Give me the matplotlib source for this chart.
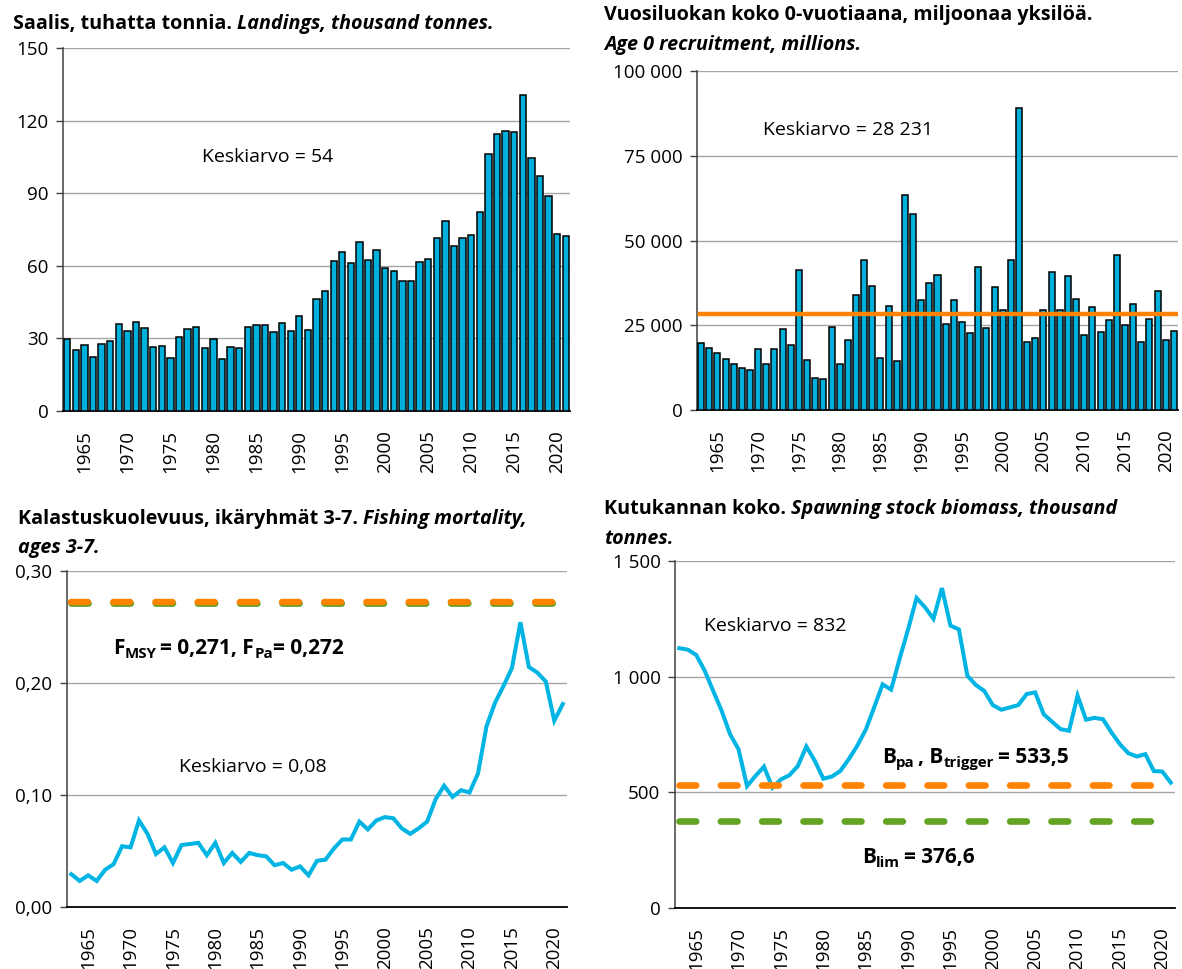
import matplotlib
matplotlib.use("Agg")
import matplotlib.pyplot as plt
from matplotlib.ticker import FuncFormatter, MultipleLocator, FixedLocator
import numpy as np

W, H = 1182, 969
FONT = ["Open Sans", "DejaVu Sans"]
plt.rcParams["font.family"] = FONT

years = list(range(1963, 2022))

landings = [29.8, 25.1, 27.2, 22.1, 27.6, 29.0, 35.9, 33.1, 36.5, 34.3,
            26.5, 26.8, 21.7, 30.4, 33.7, 34.7, 26.1, 29.8, 21.5, 26.4,
            26.1, 34.7, 35.4, 35.4, 32.5, 36.3, 33.0, 39.0, 33.4, 46.4,
            49.4, 62.0, 65.5, 61.2, 69.9, 62.3, 66.3, 59.0, 57.6, 53.7,
            53.7, 61.6, 62.8, 71.3, 78.5, 68.2, 71.3, 72.5, 82.0, 106.1,
            114.6, 115.6, 115.2, 130.4, 104.7, 97.2, 88.9, 72.9, 72.1]

recruitment = [19880, 18300, 16730, 15150, 13580, 12400, 11810, 17910, 13480, 17910,
               23810, 19190, 41230, 14760, 9550, 9250, 24400, 13580, 20660, 33950,
               44280, 36700, 15450, 30600, 14460, 63470, 57960, 32470, 37490, 39950,
               25390, 32470, 25880, 22830, 42120, 24110, 36210, 29520, 44280, 88950,
               19980, 21350, 29420, 40840, 29520, 39560, 32870, 22240, 30500, 23120,
               26570, 45850, 25090, 31190, 19980, 26860, 35230, 20660, 23420]
recruitment_mean = 28231

fishing_mortality = [0.029, 0.023, 0.028, 0.023, 0.033, 0.038, 0.054, 0.053, 0.077, 0.065,
                     0.047, 0.053, 0.039, 0.055, 0.056, 0.057, 0.046, 0.057, 0.039, 0.048,
                     0.040, 0.048, 0.046, 0.045, 0.037, 0.039, 0.033, 0.036, 0.028, 0.041,
                     0.042, 0.052, 0.060, 0.060, 0.076, 0.069, 0.077, 0.080, 0.079, 0.070,
                     0.065, 0.070, 0.076, 0.096, 0.108, 0.098, 0.104, 0.102, 0.119, 0.161,
                     0.182, 0.197, 0.213, 0.254, 0.214, 0.209, 0.201, 0.166, 0.181]
f_msy = 0.271
f_pa = 0.272

ssb = [1123, 1117, 1094, 1026, 939, 853, 751, 686, 527, 571,
       611, 520, 556, 574, 614, 698, 636, 559, 568, 592,
       643, 701, 770, 867, 967, 944, 1077, 1204, 1340, 1300,
       1250, 1383, 1221, 1204, 1004, 964, 938, 877, 857, 867,
       877, 925, 932, 838, 805, 773, 766, 918, 814, 822,
       816, 759, 708, 669, 655, 665, 592, 590, 542]
b_pa = 533.5
b_lim = 376.6

xticks = list(range(1965, 2021, 5))

BAR = "#00B0DC"
LINE = "#00B4E4"
ORANGE = "#FF8300"
GREEN = "#62A322"
GRID = "#A6A6A6"
TICK_FS = 13.5
NOTE_FS = 14.0
REF_FS = 15.0
TITLE_FS = 14.2

fig = plt.figure(figsize=(W / 100, H / 100), dpi=100)
renderer = fig.canvas.get_renderer()


def make_ax(l, t, r, b):
    return fig.add_axes([l / W, 1 - b / H, (r - l) / W, (b - t) / H])


def style_ax(ax, ylim, step, fmt):
    ax.set_xlim(years[0] - 0.5, years[-1] + 0.5)
    ax.set_ylim(*ylim)
    ax.yaxis.set_major_locator(MultipleLocator(step))
    ax.yaxis.set_major_formatter(FuncFormatter(fmt))
    ax.xaxis.set_major_locator(FixedLocator(xticks))
    ax.grid(axis="y", color=GRID, lw=1.0)
    ax.set_axisbelow(True)
    for s in ("top", "right"):
        ax.spines[s].set_visible(False)
    ax.spines["left"].set_color("#404040")
    ax.spines["left"].set_linewidth(1.1)
    ax.spines["bottom"].set_color("#000000")
    ax.spines["bottom"].set_linewidth(1.3)
    ax.tick_params(axis="y", direction="out", length=5, width=1.0, color="#404040",
                   pad=5.5, labelsize=TICK_FS, labelcolor="#000000")
    ax.tick_params(axis="x", length=0, pad=14, labelsize=TICK_FS, labelrotation=90)


def space_fmt(v, pos):
    return f"{int(round(v)):,}".replace(",", " ")


def comma_fmt(v, pos):
    return f"{v:.2f}".replace(".", ",")


def draw_runs(x, y, parts, size):
    cx = x
    for p in parts:
        s = p["s"]
        trail = s.endswith(" ")
        s = s.rstrip(" ")
        fs = size * p.get("scale", 1.0)
        kw = dict(fontsize=fs, fontweight=p.get("w", "normal"),
                  fontstyle=p.get("st", "normal"), family=FONT, color="#000000")
        t = fig.text(cx / W, 1 - (y + p.get("dy", 0)) / H, s, ha="left", va="baseline", **kw)
        cx += t.get_window_extent(renderer).width
        if trail:
            a = fig.text(0, 0, "a a", **kw)
            b = fig.text(0, 0, "aa", **kw)
            cx += a.get_window_extent(renderer).width - b.get_window_extent(renderer).width
            a.remove()
            b.remove()
        cx += p.get("gap", 0)


def ptext(x, y, s, **kw):
    fig.text(x / W, 1 - y / H, s, ha="left", va="baseline", family=FONT,
             fontsize=kw.pop("fontsize", NOTE_FS), **kw)


# ---- Top-left: landings
ax1 = make_ax(63, 48, 570, 410.7)
style_ax(ax1, (0, 150), 30, lambda v, p: f"{int(v)}")
ax1.bar(years, landings, width=0.74, color=BAR, edgecolor="#000000", linewidth=1.1, zorder=3)
ptext(202, 162, "Keskiarvo = 54")
draw_runs(13, 29, [dict(s="Saalis, tuhatta tonnia. ", w="bold"),
                   dict(s="Landings, thousand tonnes.", w="bold", st="italic")], TITLE_FS)

# ---- Top-right: recruitment
ax2 = make_ax(697, 71, 1178, 410)
style_ax(ax2, (0, 100000), 25000, space_fmt)
ax2.bar(years, recruitment, width=0.74, color=BAR, edgecolor="#000000", linewidth=1.1, zorder=3)
ax2.axhline(recruitment_mean, xmin=0.006, xmax=0.995, color=ORANGE, lw=3.2, zorder=4)
ptext(763, 135, "Keskiarvo = 28 231")
draw_runs(604, 20, [dict(s="Vuosiluokan koko 0-vuotiaana, miljoonaa yksilöä.", w="bold")], TITLE_FS)
draw_runs(604, 50, [dict(s="Age 0 recruitment, millions.", w="bold", st="italic")], TITLE_FS)

DASH = (2.5, 3.7)

# ---- Bottom-left: fishing mortality
ax3 = make_ax(67, 570.7, 567, 906.7)
style_ax(ax3, (0, 0.30), 0.10, comma_fmt)
ax3.plot(years, fishing_mortality, color=LINE, lw=2.9, zorder=3, solid_joinstyle="miter")
ax3.plot([years[0], years[-1]], [f_msy, f_msy], color=GREEN, lw=4.9, dashes=DASH,
         dash_capstyle="round", zorder=4)
ax3.plot([years[0], years[-1]], [f_pa, f_pa], color=ORANGE, lw=4.6,
         dashes=(DASH[0] * 4.9 / 4.6, DASH[1] * 4.9 / 4.6), dash_capstyle="round", zorder=5)
ptext(179, 772, "Keskiarvo = 0,08")
draw_runs(113, 654, [dict(s="F", w="bold"), dict(s="MSY ", w="bold", scale=0.72, dy=4),
                     dict(s="= 0,271, F", w="bold"), dict(s="Pa", w="bold", scale=0.72, dy=4),
                     dict(s="= 0,272", w="bold")], REF_FS)
draw_runs(18, 524, [dict(s="Kalastuskuolevuus, ikäryhmät 3-7. ", w="bold"),
                    dict(s="Fishing mortality,", w="bold", st="italic")], TITLE_FS)
draw_runs(18, 553, [dict(s="ages 3-7.", w="bold", st="italic")], TITLE_FS)

# ---- Bottom-right: spawning stock biomass
ax4 = make_ax(675, 561, 1175, 908)
style_ax(ax4, (0, 1500), 500, space_fmt)
ax4.plot(years, ssb, color=LINE, lw=2.9, zorder=3, solid_joinstyle="miter")
ax4.plot([years[0], years[-1]], [b_pa, b_pa], color=ORANGE, lw=4.8, dashes=DASH,
         dash_capstyle="round", zorder=4)
ax4.plot([years[0], years[-1]], [b_lim, b_lim], color=GREEN, lw=4.8, dashes=DASH,
         dash_capstyle="round", zorder=4)
ptext(704, 631, "Keskiarvo = 832")
draw_runs(882, 763, [dict(s="B", w="bold"), dict(s="pa ", w="bold", scale=0.72, dy=4),
                     dict(s=", B", w="bold"), dict(s="trigger ", w="bold", scale=0.72, dy=4),
                     dict(s="= 533,5", w="bold")], REF_FS)
draw_runs(862, 863, [dict(s="B", w="bold"), dict(s="lim ", w="bold", scale=0.72, dy=4),
                     dict(s="= 376,6", w="bold")], REF_FS)
draw_runs(604, 514, [dict(s="Kutukannan koko. ", w="bold"),
                     dict(s="Spawning stock biomass, thousand", w="bold", st="italic")], TITLE_FS)
draw_runs(604, 544, [dict(s="tonnes.", w="bold", st="italic")], TITLE_FS)

fig.savefig("out.png", dpi=100)
